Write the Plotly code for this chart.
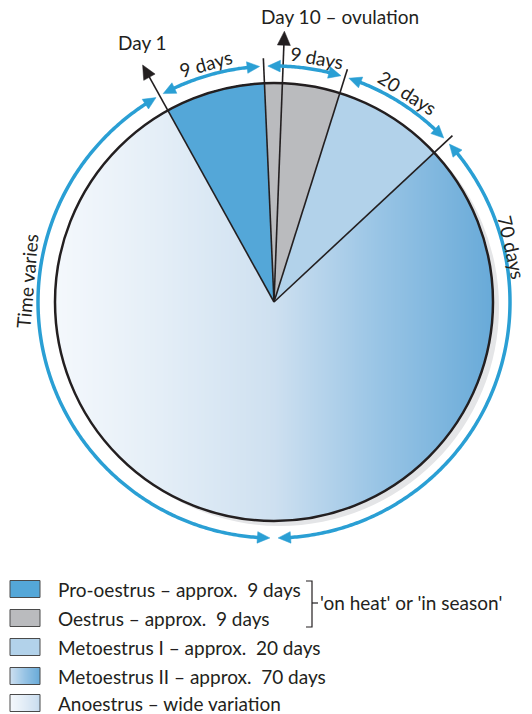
import math
import numpy as np
import plotly.graph_objects as go

# ---- data -------------------------------------------------------------
phases = ["Pro-oestrus", "Oestrus", "Metoestrus I", "Metoestrus II", "Anoestrus"]
legend_text = [
    "Pro-oestrus – approx.  9 days",
    "Oestrus – approx.  9 days",
    "Metoestrus I – approx.  20 days",
    "Metoestrus II – approx.  70 days",
    "Anoestrus – wide variation",
]
# sector limits, degrees clockwise from 12 o'clock
phase_start_deg = [-29.0, -2.5, 17.5, 47.0, 180.0]
phase_end_deg = [-2.5, 17.5, 47.0, 180.0, 331.0]
arc_labels = ["9 days", "9 days", "20 days", "70 days", "Time varies"]
arc_label_deg = [-16.0, 10.0, 32.5, 77.0, -85.0]
event_labels = ["Day 1", "Day 10 – ovulation"]
event_deg = [-29.0, 2.2]
bracket_label = "'on heat' or 'in season'"

# ---- styling ------------------------------------------------------------
W, H = 532, 714
CX, CY, R = 274.0, 302.0, 219.0
R_ARC, R_TICK, R_EVENT = 236.0, 244.0, 271.0
R_TEXT = [248.0, 248.0, 248.0, 244.5, 248.0]
FONT = "Lato"
FS = 19
INK = "#231f20"
ARC_BLUE = "#2a9fd4"
flat_rgb = {0: (84, 167, 216), 1: (186, 187, 190), 2: (178, 210, 234)}
# horizontal colour ramp shared by metoestrus II / anoestrus
ramp_x = [57, 160, 274, 380, 493]
ramp_rgb = np.array([(244, 248, 252), (228, 238, 247), (206, 224, 240),
                     (152, 196, 229), (104, 170, 216)], dtype=float)


def pt(deg, r):
    a = math.radians(deg)
    return CX + r * math.sin(a), CY - r * math.cos(a)


def ramp(x):
    x = np.asarray(x, dtype=float)
    return np.stack([np.interp(x, ramp_x, ramp_rgb[:, k]) for k in range(3)], axis=-1)


# ---- disk raster ----------------------------------------------------------
x0, x1, y0, y1 = 50, 500, 78, 528
xs = np.arange(x0, x1) + 0.5
ys = np.arange(y0, y1) + 0.5
XX, YY = np.meshgrid(xs, ys)
dx, dy = XX - CX, YY - CY
inside = dx * dx + dy * dy <= (R + 0.8) ** 2
ang = np.degrees(np.arctan2(dx, -dy))
ang = (ang - phase_start_deg[0]) % 360 + phase_start_deg[0]
sector = np.searchsorted(np.array(phase_end_deg), ang, side="right")
sector = np.clip(sector, 0, len(phases) - 1)
rgb = ramp(XX)
for k, c in flat_rgb.items():
    rgb[sector == k] = c
img = np.round(rgb).astype(int)
alpha = np.where(inside, 1, 0)
z = np.concatenate([img, alpha[..., None]], axis=-1).tolist()

fig = go.Figure()
fig.add_trace(go.Image(z=z, colormodel="rgba", x0=x0 + 0.5, y0=y0 + 0.5, dx=1, dy=1,
                       zmin=[0, 0, 0, 0], zmax=[255, 255, 255, 1], hoverinfo="skip"))

shapes = []
# soft shadow under the disk
shapes.append(dict(type="circle", layer="below", xref="x", yref="y",
                   x0=CX - R + 6, x1=CX + R + 6, y0=CY - R + 5, y1=CY + R + 5,
                   fillcolor="#e4e5e7", line=dict(width=0)))
# outline
shapes.append(dict(type="circle", xref="x", yref="y",
                   x0=CX - R, x1=CX + R, y0=CY - R, y1=CY + R,
                   line=dict(color=INK, width=2.5)))


def line(p, q, color=INK, width=1.6):
    return dict(type="line", xref="x", yref="y", x0=p[0], y0=p[1], x1=q[0], y1=q[1],
                line=dict(color=color, width=width))


def tri(tip, base_a, base_b, color):
    path = "M{:.2f},{:.2f} L{:.2f},{:.2f} L{:.2f},{:.2f} Z".format(
        tip[0], tip[1], base_a[0], base_a[1], base_b[0], base_b[1])
    return dict(type="path", xref="x", yref="y", path=path, fillcolor=color,
                line=dict(color=color, width=0.5))


# sector boundary spokes (the 180 deg boundary is a blend, no line)
for a in phase_start_deg[1:4]:
    shapes.append(line(pt(a, 0), pt(a, R_TICK)))

# event arrows
for a in event_deg:
    shapes.append(line(pt(a, 0), pt(a, R_EVENT - 10)))
    hl, hw = 14.0, 6.5
    tip = pt(a, R_EVENT)
    bx, by = pt(a, R_EVENT - hl)
    nx, ny = math.cos(math.radians(a)), math.sin(math.radians(a))
    shapes.append(tri(tip, (bx + hw * nx, by + hw * ny), (bx - hw * nx, by - hw * ny), INK))

# double-headed duration arcs
GAP = 1.0
HEAD_L, HEAD_W = 12.5, 5.8
for s, e in zip(phase_start_deg, phase_end_deg):
    a0, a1 = s + GAP, e - GAP
    hd = math.degrees(HEAD_L / R_ARC)
    n = max(8, int(abs(a1 - a0) * 2))
    pts = [pt(a0 + hd * 0.7 + (a1 - a0 - 1.4 * hd) * i / n, R_ARC) for i in range(n + 1)]
    path = "M" + " L".join("{:.2f},{:.2f}".format(px, py) for px, py in pts)
    shapes.append(dict(type="path", xref="x", yref="y", path=path,
                       line=dict(color=ARC_BLUE, width=3.5)))
    shapes.append(tri(pt(a0, R_ARC), pt(a0 + hd, R_ARC + HEAD_W), pt(a0 + hd, R_ARC - HEAD_W), ARC_BLUE))
    shapes.append(tri(pt(a1, R_ARC), pt(a1 - hd, R_ARC + HEAD_W), pt(a1 - hd, R_ARC - HEAD_W), ARC_BLUE))

annotations = []
for lab, a, rt in zip(arc_labels, arc_label_deg, R_TEXT):
    px, py = pt(a, rt)
    annotations.append(dict(x=px, y=py, xref="x", yref="y", text=lab, showarrow=False,
                            textangle=a, font=dict(family=FONT, size=FS, color=INK),
                            xanchor="center", yanchor="middle"))
annotations.append(dict(x=142, y=42, xref="x", yref="y", text=event_labels[0], showarrow=False,
                        font=dict(family=FONT, size=FS, color=INK), xanchor="center", yanchor="middle"))
annotations.append(dict(x=340, y=16, xref="x", yref="y", text=event_labels[1], showarrow=False,
                        font=dict(family=FONT, size=FS, color=INK), xanchor="center", yanchor="middle"))

# ---- legend -------------------------------------------------------------
row_y = [589, 618, 647, 676, 703]
SW_X0, SW_X1, SW_H = 10, 40, 17
for i, (name, txt, yc) in enumerate(zip(phases, legend_text, row_y)):
    top, bot = yc - SW_H / 2, yc + SW_H / 2
    if i in flat_rgb:
        c = flat_rgb[i]
        shapes.append(dict(type="rect", xref="x", yref="y", x0=SW_X0, x1=SW_X1, y0=top, y1=bot,
                           fillcolor="rgb({},{},{})".format(*c), line=dict(width=0)))
    else:
        lo, hi = (274, 493) if name == "Metoestrus II" else (57, 300)
        steps = SW_X1 - SW_X0
        for j in range(steps):
            c = ramp(lo + (hi - lo) * (j + 0.5) / steps)
            shapes.append(dict(type="rect", xref="x", yref="y", x0=SW_X0 + j, x1=SW_X0 + j + 1.05,
                               y0=top, y1=bot, line=dict(width=0),
                               fillcolor="rgb({:.0f},{:.0f},{:.0f})".format(*c)))
    shapes.append(dict(type="rect", xref="x", yref="y", x0=SW_X0, x1=SW_X1, y0=top, y1=bot,
                       line=dict(color="#4a4a4a", width=1)))
    annotations.append(dict(x=56, y=yc, xref="x", yref="y", text=txt, showarrow=False,
                            font=dict(family=FONT, size=FS, color=INK),
                            xanchor="left", yanchor="middle"))

# bracket joining the first two rows
shapes.append(dict(type="path", xref="x", yref="y",
                   path="M306,581 L312,581 L312,627 L306,627",
                   line=dict(color=INK, width=1.2)))
shapes.append(line((312, 603), (318, 603), width=1.2))
annotations.append(dict(x=318, y=602, xref="x", yref="y", text=bracket_label, showarrow=False,
                        font=dict(family=FONT, size=FS, color=INK),
                        xanchor="left", yanchor="middle"))

fig.update_layout(
    width=W, height=H, margin=dict(l=0, r=0, t=0, b=0),
    paper_bgcolor="white", plot_bgcolor="white",
    xaxis=dict(range=[0, W], visible=False, fixedrange=True),
    yaxis=dict(range=[H, 0], visible=False, fixedrange=True, autorange=False),
    shapes=shapes, annotations=annotations, showlegend=False,
)
fig.write_html("out.html")
